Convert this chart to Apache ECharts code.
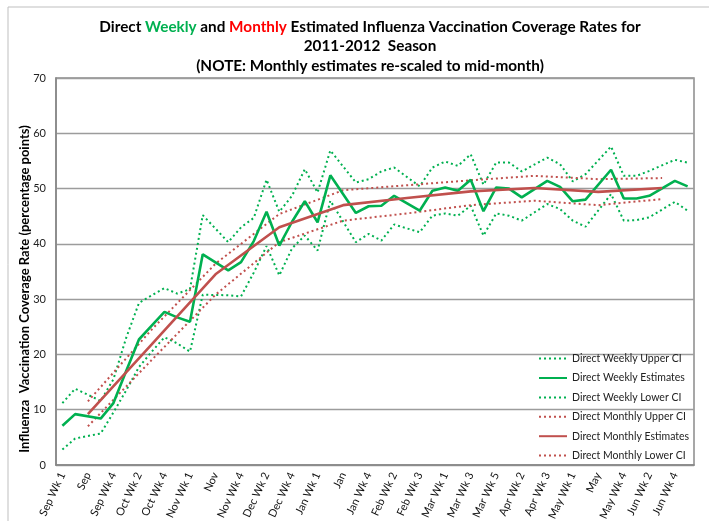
<!DOCTYPE html>
<html>
<head>
<meta charset="utf-8">
<script src="https://cdn.jsdelivr.net/npm/echarts@6/dist/echarts.min.js"></script>
<style>
  html, body { margin: 0; padding: 0; background: #fff; }
  #chart { width: 709px; height: 521px; }
</style>
</head>
<body>
<div id="chart"></div>
<script>
// categories: weeks plus mid-month slots (month values sit on every 5th slot from index 2)
const categories = [
  'Sep Wk 1', 'Sep Wk 2', 'Sep', 'Sep Wk 3', 'Sep Wk 4',
  'Oct Wk 1', 'Oct Wk 2', 'Oct', 'Oct Wk 4', 'Oct Wk 5',
  'Nov Wk 1', 'Nov Wk 2', 'Nov', 'Nov Wk 3', 'Nov Wk 4',
  'Dec Wk 1', 'Dec Wk 2', 'Dec', 'Dec Wk 4', 'Dec Wk 5',
  'Jan Wk 1', 'Jan Wk 2', 'Jan', 'Jan Wk 3', 'Jan Wk 4',
  'Feb Wk 1', 'Feb Wk 2', 'Feb', 'Feb Wk 3', 'Feb Wk 4',
  'Mar Wk 1', 'Mar Wk 2', 'Mar Wk 3', 'Mar Wk 4', 'Mar Wk 5',
  'Apr Wk 1', 'Apr Wk 2', 'Apr', 'Apr Wk 3', 'Apr Wk 4',
  'May Wk 1', 'May Wk 2', 'May', 'May Wk 3', 'May Wk 4',
  'Jun Wk 1', 'Jun Wk 2', 'Jun', 'Jun Wk 4', 'Jun Wk 5'
];

const weeklyUpper = [
  11.2, 13.8, null, 11.6, 15.5, 23.0, 29.3, 30.7, 32.0, 31.0,
  31.8, 45.2, null, 40.3, 43.0, 44.7, 51.6, 45.8, 48.7, 53.5,
  49.3, 56.9, null, 51.1, 51.7, 53.1, 53.8, null, 50.4, 53.8,
  54.9, 54.1, 56.2, 50.7, 54.7, 54.7, 53.1, null, 55.6, 54.4,
  51.3, 52.6, null, 57.6, 52.3, 52.3, 53.2, null, 55.2, 54.7
];

const weeklyEst = [
  7.1, 9.2, null, 8.4, 11.2, 17.0, 22.7, 25.2, 27.7, 26.7,
  25.9, 38.1, null, 35.2, 36.7, 40.5, 45.8, 39.7, 44.0, 47.7,
  43.9, 52.4, null, 45.6, 46.8, 46.9, 48.7, null, 46.0, 49.6,
  50.2, 49.6, 51.6, 45.9, 50.2, 50.0, 48.4, null, 51.4, 50.3,
  47.7, 48.0, null, 53.4, 48.2, 48.2, 48.7, null, 51.4, 50.4
];

const weeklyLower = [
  2.8, 4.8, null, 5.7, 9.5, 13.5, 17.7, 20.5, 23.1, 22.0,
  20.5, 30.8, null, 30.7, 30.5, 34.8, 39.6, 34.3, 39.2, 41.5,
  38.8, 47.8, null, 40.3, 41.8, 40.6, 43.5, null, 42.1, 45.1,
  45.5, 45.1, 46.9, 41.5, 45.5, 45.1, 44.2, null, 47.2, 46.3,
  44.2, 43.1, null, 49.0, 44.2, 44.3, 44.8, null, 47.6, 46.0
];

// monthly estimates, Sep..Jun, placed at mid-month slots
const monthSlots = [2, 7, 12, 17, 22, 27, 32, 37, 42, 47];
const monthlyUpper = [11.5, 24.5, 36.4, 45.4, 49.7, 50.6, 51.5, 52.3, 51.7, 51.9];
const monthlyEst   = [9.2, 21.8, 34.5, 43.0, 47.0, 48.3, 49.5, 50.1, 49.4, 50.1];
const monthlyLower = [7.0, 19.0, 30.8, 40.3, 44.2, 45.5, 47.0, 47.8, 47.0, 48.1];

const yTicks = [0, 10, 20, 30, 40, 50, 60, 70];

const toSlots = vals => {
  const out = categories.map(() => null);
  monthSlots.forEach((s, i) => { out[s] = vals[i]; });
  return out;
};

const green = '#00b050';
const red = '#c0504d';
const dots = [2, 3];

const mkLine = (name, data, color, width, dotted) => ({
  name,
  type: 'line',
  data,
  connectNulls: true,
  symbol: 'none',
  smooth: false,
  lineStyle: { color, width, type: dotted ? dots : 'solid' },
  itemStyle: { color },
  z: dotted ? 2 : 3
});

const titleFont = { fontFamily: 'Lato', fontWeight: 'bold', fontSize: 15.3, lineHeight: 19.5 };

const chart = echarts.init(document.getElementById('chart'), null, { renderer: 'canvas' });

chart.setOption({
  animation: false,
  backgroundColor: '#fff',
  textStyle: { fontFamily: 'Lato' },
  graphic: [
    {
      type: 'rect',
      shape: { x: 8, y: 7, width: 720, height: 540 },
      style: { fill: 'none', stroke: '#bfbfbf', lineWidth: 1 },
      silent: true
    },
    {
      type: 'text',
      x: 370,
      y: 17,
      style: {
        text: '{k|Direct }{g|Weekly}{k| and }{r|Monthly}{k| Estimated Influenza Vaccination Coverage Rates for}\n{k|2011-2012  Season}\n{k|(NOTE: Monthly estimates re-scaled to mid-month)}',
        align: 'center',
        verticalAlign: 'top',
        fill: '#000',
        rich: {
          k: Object.assign({ fill: '#000' }, titleFont),
          g: Object.assign({ fill: green }, titleFont),
          r: Object.assign({ fill: '#ff0000' }, titleFont)
        }
      }
    },
    {
      // y-axis title, placed like the original (slightly below plot centre)
      type: 'text',
      x: 25,
      y: 289,
      rotation: Math.PI / 2,
      style: {
        text: 'Influenza  Vaccination Coverage Rate (percentage points)',
        align: 'center',
        verticalAlign: 'middle',
        fontFamily: 'Lato',
        fontWeight: 'bold',
        fontSize: 13,
        fill: '#000'
      }
    }
  ],
  legend: {
    orient: 'vertical',
    left: 533,
    top: 348,
    itemWidth: 28,
    itemHeight: 14,
    itemGap: 8.2,
    itemStyle: { opacity: 0 },
    textStyle: { fontFamily: 'Lato', fontSize: 10.5, color: '#222' },
    data: [
      'Direct Weekly Upper CI', 'Direct Weekly Estimates', 'Direct Weekly Lower CI',
      'Direct Monthly Upper CI', 'Direct Monthly Estimates', 'Direct Monthly Lower CI'
    ]
  },
  grid: {
    left: 56, right: 15, top: 78, bottom: 56,
    show: true,
    borderColor: '#8a8a8a',
    borderWidth: 1.5,
    outerBoundsMode: 'none'
  },
  xAxis: {
    type: 'category',
    data: categories,
    boundaryGap: true,
    axisLine: { lineStyle: { color: '#868686', width: 1.5 } },
    axisTick: { show: false },
    axisLabel: {
      interval: 1,
      rotate: 65,
      fontSize: 11,
      color: '#111',
      margin: 8,
      fontFamily: 'Lato'
    }
  },
  yAxis: {
    type: 'value',
    min: yTicks[0],
    max: yTicks[yTicks.length - 1],
    interval: 10,
    axisLine: { show: true, lineStyle: { color: '#868686', width: 1.5 } },
    axisTick: { show: false },
    axisLabel: { fontSize: 11, color: '#222', margin: 10, fontFamily: 'Lato' },
    splitLine: { lineStyle: { color: '#9c9c9c', width: 1.4 } }
  },
  series: [
    mkLine('Direct Weekly Upper CI', weeklyUpper, green, 2, true),
    mkLine('Direct Weekly Estimates', weeklyEst, green, 2.6, false),
    mkLine('Direct Weekly Lower CI', weeklyLower, green, 2, true),
    mkLine('Direct Monthly Upper CI', toSlots(monthlyUpper), red, 2, true),
    mkLine('Direct Monthly Estimates', toSlots(monthlyEst), red, 2.6, false),
    mkLine('Direct Monthly Lower CI', toSlots(monthlyLower), red, 2, true)
  ]
});
</script>
</body>
</html>
